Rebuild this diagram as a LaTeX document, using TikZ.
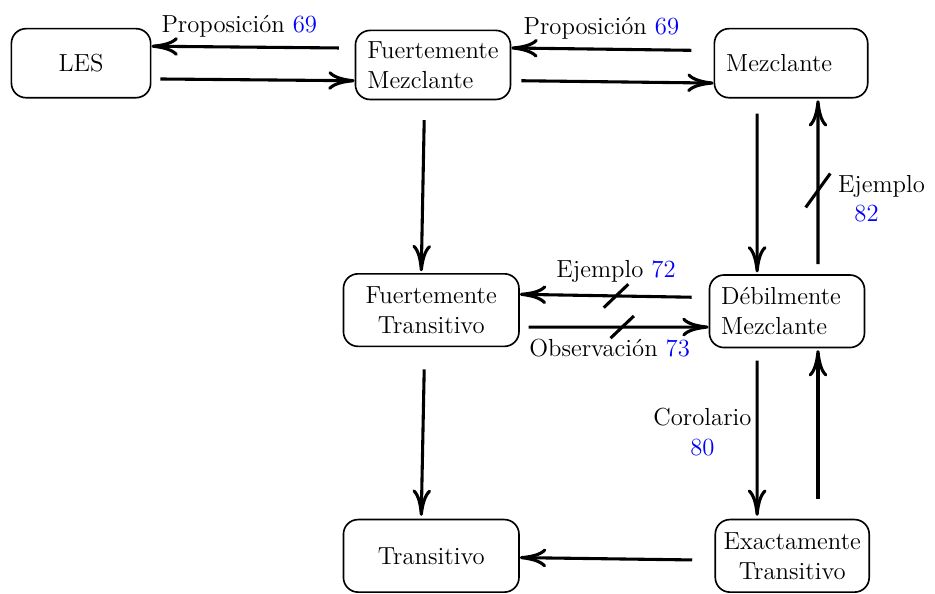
\documentclass[tikz,border=0pt,12pt]{standalone}
\usepackage{xcolor}
\usetikzlibrary{arrows.meta}

\newcommand{\azul}[1]{\textcolor{blue}{#1}}

\tikzset{
  caja/.style={draw, line width=0.8pt, rounded corners=2.5mm, minimum height=1.18cm},
  cajabaja/.style={caja, minimum height=1.24cm},
  flecha/.style={line width=1.5pt, -{To[length=4.5mm,width=3.2mm]}},
  tachado/.style={line width=1.5pt}
}

\begin{document}
\begin{tikzpicture}
            \useasboundingbox (0,0) rectangle (15.98,-10.14);

            % cajas
            \node[caja, minimum width=2.38cm] (les) at (1.385,-1.08) {LES};
            \node[caja, minimum width=2.65cm, inner xsep=2pt, align=left] (fm) at (7.40,-1.11) {Fuertemente\\Mezclante};
            \node[caja, inner xsep=0.2cm, text width=2.22cm, align=left] (mez) at (13.52,-1.08) {Mezclante};
            \node[cajabaja, minimum width=3.0cm, align=center] (ft) at (7.37,-5.30) {Fuertemente\\Transitivo};
            \node[cajabaja, inner xsep=0.2cm, text width=2.25cm, align=left] (dm) at (13.45,-5.32) {D\'ebilmente\\Mezclante};
            \node[cajabaja, minimum width=3.0cm] (t) at (7.37,-9.50) {Transitivo};
            \node[cajabaja, minimum width=2.63cm, inner xsep=1pt, align=center] (et) at (13.54,-9.50) {Exactamente\\Transitivo};

            % fila de arriba
            \draw[flecha] ([xshift=-0.27cm,yshift=0.29cm]fm.west) -- node[above=0pt, xshift=-0.1cm] {Proposici\'on \azul{69}} ([yshift=0.29cm]les.east);
            \draw[flecha] ([xshift=0.15cm,yshift=-0.27cm]les.east) -- ([yshift=-0.27cm]fm.west);
            \draw[flecha] ([xshift=-0.38cm,yshift=0.22cm]mez.west) -- node[above=0pt] {Proposici\'on \azul{69}} ([yshift=0.29cm]fm.east);
            \draw[flecha] ([xshift=0.17cm,yshift=-0.27cm]fm.east) -- ([yshift=-0.34cm]mez.west);

            % columna izquierda
            \draw[flecha] ([xshift=-0.15cm,yshift=-0.34cm]fm.south) -- ([xshift=-0.17cm,yshift=0.03cm]ft.north);
            \draw[flecha] ([xshift=-0.12cm,yshift=-0.38cm]ft.south) -- ([xshift=-0.17cm,yshift=0.05cm]t.north);

            % columna derecha
            \draw[flecha] ([xshift=-0.58cm,yshift=-0.26cm]mez.south) -- ([xshift=-0.51cm,yshift=0.03cm]dm.north);
            \draw[flecha] ([xshift=0.53cm,yshift=0.17cm]dm.north) -- coordinate[pos=0.45] (s82)
              node[pos=0.4, right=5pt, align=left] {Ejemplo\\\hspace*{8pt}\azul{82}} ([xshift=0.46cm,yshift=-0.03cm]mez.south);
            \draw[flecha] ([xshift=-0.51cm,yshift=-0.21cm]dm.south) --
              node[pos=0.46, left=-2pt, align=center] {Corolario\\\azul{80}} ([xshift=-0.6cm,yshift=0.05cm]et.north);
            \draw[flecha] ([xshift=0.44cm,yshift=0.34cm]et.north) -- ([xshift=0.53cm,yshift=-0.03cm]dm.south);

            % fila del medio
            \draw[flecha] ([xshift=-0.29cm,yshift=0.24cm]dm.west) -- coordinate[pos=0.44] (s72)
              node[pos=0.44, above=2pt] {Ejemplo \azul{72}} ([yshift=0.27cm]ft.east);
            \draw[flecha] ([xshift=0.15cm,yshift=-0.29cm]ft.east) -- coordinate[pos=0.52] (s73)
              node[pos=0.45, below=1pt] {Observaci\'on \azul{73}} ([yshift=-0.27cm]dm.west);

            % fila de abajo
            \draw[flecha] ([xshift=-0.38cm,yshift=-0.07cm]et.west) -- ([yshift=-0.03cm]t.east);

            % tachados
            \draw[tachado] ([shift={(-0.21cm,-0.2cm)}]s72) -- ([shift={(0.21cm,0.2cm)}]s72);
            \draw[tachado] ([shift={(-0.2cm,-0.19cm)}]s73) -- ([shift={(0.2cm,0.19cm)}]s73);
            \draw[tachado] ([shift={(-0.21cm,-0.29cm)}]s82) -- ([shift={(0.21cm,0.29cm)}]s82);
        \end{tikzpicture}
\end{document}
